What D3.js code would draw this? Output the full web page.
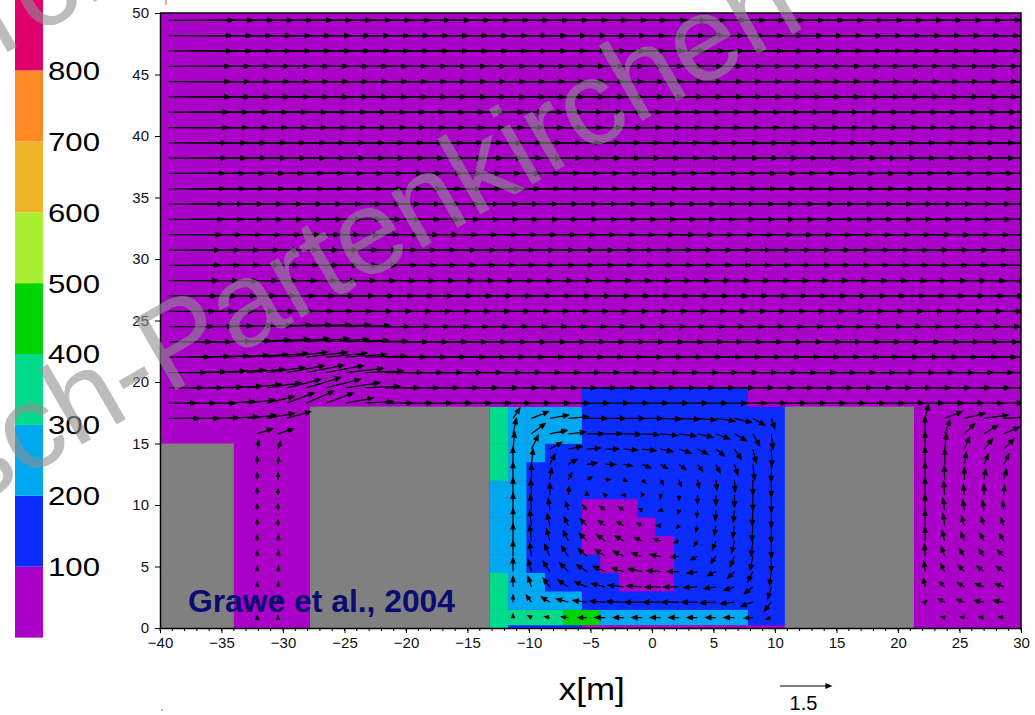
<!DOCTYPE html>
<html>
<head>
<meta charset="utf-8">
<script src="https://cdn.jsdelivr.net/npm/d3@7"></script>
<style>
  body { margin: 0; background: #fff; }
  svg text { font-family: "Liberation Sans", Arial, Helvetica, sans-serif; }
</style>
</head>
<body>
<svg id="chart" width="1035" height="715"></svg>
<script>
"use strict";

// colour classes of the concentration field (legend on the left)
let levels = [100, 200, 300, 400, 500, 600, 700, 800]
let levelColors = ["#aa00c8", "#0a2cff", "#00a8f0", "#00dc8c", "#00d400",
                   "#aaf032", "#f0b428", "#ff8a26", "#e0006c"]

let xTicks = [-40, -35, -30, -25, -20, -15, -10, -5, 0, 5, 10, 15, 20, 25, 30]
let yTicks = [0, 5, 10, 15, 20, 25, 30, 35, 40, 45, 50]

// buildings [x0, x1, height]
let buildings = [[-40, -34, 15], [-27.8, -13.2, 18], [10.8, 21.3, 18]]

// concentration cells in the street canyon (class index per cell, bottom row first)
let cellX = [-13.2, -11.7, -10.2, -8.7, -7.2, -5.7, -4.2, -2.7, -1.2, 0.3, 1.8, 3.3, 4.8, 6.3, 7.8, 9.3, 10.8]
let cellY = [0, 0.25, 1.5, 3, 4.5, 6, 7.5, 9, 10.5, 12, 13.5, 15, 16.5, 18, 19.5]
let cellClass = [
  "3111100000000000",
  "3333442222222211",
  "3222211111111111",
  "3221111000111111",
  "2211110000111111",
  "2211100000111111",
  "2211100001111111",
  "2211100011111111",
  "2211111111111111",
  "3211111111111111",
  "3221111111111111",
  "3222211111111111",
  "3222211111111111",
  "0000011111111100"
]

// wind vectors: rows of the vector grid (m)
let rowY = [0.85, 2.1, 3.34, 4.59, 5.83, 7.08, 8.32, 9.57, 10.81, 12.06, 13.3, 14.55, 15.79, 17.04,
            18.28, 19.53, 20.77, 22.02, 23.26, 24.51, 25.75, 27.0, 28.24, 29.49, 30.73, 31.98, 33.22,
            34.47, 35.71, 36.96, 38.2, 39.45, 40.69, 41.94, 43.18, 44.43, 45.67, 46.92, 48.16, 49.41]

// free stream above the roofs (rows 14..39)
let freeCols = [-39.3, -37.7, -36.1, -34.5, -32.9, -31.3, -29.7, -28.1, -26.5, -24.9, -23.3, -21.7,
                -20.1, -18.5, -16.9, -15.3, -13.7, -12.1, -10.5, -8.9, -7.3, -5.7, -4.1, -2.5, -0.9,
                0.7, 2.3, 3.9, 5.5, 7.1, 8.7, 10.3, 11.9, 13.5, 15.1, 16.7, 18.3, 19.9, 21.5, 23.1,
                24.7, 26.3, 27.9, 29.5]
let freeU = [0.8, 1.0, 1.1, 1.2, 1.25, 1.3, 1.35, 1.4, 1.45, 1.5, 1.5, 1.55, 1.6, 1.6, 1.65, 1.65,
             1.7, 1.7, 1.75, 1.75, 1.8, 1.8, 1.8, 1.85, 1.85, 1.9]
// upward deflection behind the first gap (rows 14..19, first 12 free columns)
let leftTiltV = [
  [0, 0, 0, 0.05, 0.1, 0.2, 0.3, 0.35, 0.3, 0.15, 0.05, 0],
  [0, 0, 0.02, 0.05, 0.1, 0.15, 0.25, 0.3, 0.25, 0.15, 0.05, 0],
  [0, 0.02, 0.05, 0.08, 0.1, 0.15, 0.2, 0.22, 0.2, 0.12, 0.05, 0],
  [0, 0.02, 0.04, 0.06, 0.08, 0.12, 0.15, 0.15, 0.12, 0.08, 0.03, 0],
  [0, 0, 0.02, 0.04, 0.06, 0.08, 0.1, 0.1, 0.08, 0.05, 0.02, 0],
  [0, 0, 0.02, 0.03, 0.04, 0.05, 0.06, 0.06, 0.05, 0.03, 0, 0]
]

// row 13 left of the second building
let lowLeftCols = [-39.3, -37.7, -36.1, -34.5, -32.9, -31.3, -29.7]
let lowLeftUV = [[0.9, 0], [0.9, 0], [0.9, 0.02], [0.9, 0.05], [0.85, 0.1], [0.8, 0.15], [0.7, 0.2]]

// narrow gap between first and second building (rows 12..0, top first)
let gapCols = [-32.1, -30.4]
let gapUV = [
  [[0.45, 0.15], [0.45, 0.15]],
  [[0.05, 0.25], [0.08, 0.22]],
  [[0, 0.22], [0.02, 0.2]],
  [[0, 0.2], [0, 0.2]],
  [[0, 0.2], [0, 0.18]],
  [[0, 0.18], [0, 0.18]],
  [[0, 0.18], [0, 0.16]],
  [[0, 0.16], [0.02, 0.16]],
  [[0, 0.15], [0.02, 0.15]],
  [[0, 0.14], [0.02, 0.14]],
  [[0, 0.12], [0.02, 0.12]],
  [[0, 0.1], [0, 0.1]],
  [[0, 0.05], [0, 0.05]]
]

// main street canyon vortex (rows 13..0, top first)
let cavityCols = [-11.3, -9.8, -8.3, -6.8, -5.3, -3.8, -2.3, -0.8, 0.7, 2.2, 3.7, 5.2, 6.7, 8.2, 9.7]
let cavityUV = [
  [[0.2,0.3],[0.5,0.2],[0.55,0.1],[0.6,0.05],[0.6,0],[0.6,0],[0.6,0],[0.6,0],[0.6,-0.02],[0.6,-0.03],[0.55,-0.05],[0.55,-0.08],[0.5,-0.12],[0.35,-0.2],[0.1,-0.3]],
  [[0.1,0.45],[0.4,0.3],[0.5,0.1],[0.5,0.05],[0.5,0],[0.5,0],[0.5,-0.02],[0.5,-0.03],[0.5,-0.05],[0.5,-0.07],[0.45,-0.1],[0.4,-0.15],[0.35,-0.2],[0.2,-0.35],[0.05,-0.45]],
  [[0.05,0.5],[0.2,0.4],[0.35,0.2],[0.4,0.08],[0.4,0.03],[0.4,0],[0.4,-0.03],[0.4,-0.05],[0.35,-0.08],[0.35,-0.12],[0.3,-0.15],[0.25,-0.2],[0.2,-0.3],[0.1,-0.4],[0.02,-0.5]],
  [[0,0.5],[0.05,0.45],[0.15,0.3],[0.25,0.15],[0.3,0.05],[0.3,0],[0.25,-0.05],[0.25,-0.1],[0.2,-0.12],[0.2,-0.15],[0.15,-0.2],[0.12,-0.25],[0.1,-0.3],[0.05,-0.45],[0,-0.5]],
  [[0,0.5],[0,0.45],[0.05,0.35],[0.1,0.2],[0.15,0.08],[0.15,0],[0.1,-0.05],[0.1,-0.1],[0.08,-0.15],[0.06,-0.2],[0.05,-0.25],[0.03,-0.3],[0.02,-0.35],[0,-0.45],[0,-0.5]],
  [[0,0.5],[-0.02,0.45],[0,0.35],[0.02,0.25],[0,0.1],[-0.05,0.05],[-0.05,0],[-0.03,-0.05],[0,-0.1],[0,-0.15],[0,-0.25],[0,-0.3],[0,-0.35],[0,-0.45],[0,-0.5]],
  [[0,0.5],[-0.03,0.45],[-0.05,0.35],[-0.08,0.25],[-0.12,0.15],[-0.15,0.12],[-0.15,0.1],[-0.1,0.05],[-0.05,-0.02],[-0.03,-0.1],[-0.02,-0.2],[-0.02,-0.3],[-0.03,-0.35],[-0.02,-0.45],[0,-0.5]],
  [[0,0.5],[-0.05,0.45],[-0.08,0.35],[-0.12,0.25],[-0.2,0.2],[-0.2,0.15],[-0.2,0.12],[-0.15,0.08],[-0.12,0],[-0.08,-0.08],[-0.05,-0.18],[-0.05,-0.28],[-0.05,-0.35],[-0.03,-0.45],[0,-0.5]],
  [[0,0.5],[-0.05,0.45],[-0.1,0.35],[-0.15,0.3],[-0.22,0.22],[-0.25,0.18],[-0.25,0.15],[-0.22,0.1],[-0.2,0.05],[-0.15,-0.05],[-0.1,-0.15],[-0.1,-0.25],[-0.08,-0.35],[-0.05,-0.45],[0,-0.5]],
  [[0,0.45],[-0.05,0.4],[-0.15,0.35],[-0.2,0.3],[-0.25,0.22],[-0.3,0.2],[-0.3,0.15],[-0.3,0.1],[-0.3,0.05],[-0.25,-0.02],[-0.2,-0.1],[-0.15,-0.2],[-0.12,-0.3],[-0.08,-0.4],[0,-0.45]],
  [[0,0.4],[-0.1,0.35],[-0.2,0.3],[-0.25,0.25],[-0.3,0.2],[-0.35,0.15],[-0.35,0.1],[-0.4,0.08],[-0.4,0.03],[-0.35,0],[-0.3,-0.05],[-0.25,-0.12],[-0.2,-0.2],[-0.15,-0.3],[-0.05,-0.4]],
  [[0,0.3],[-0.1,0.3],[-0.2,0.25],[-0.3,0.2],[-0.35,0.15],[-0.4,0.1],[-0.45,0.05],[-0.45,0.03],[-0.45,0],[-0.45,0],[-0.4,-0.02],[-0.35,-0.05],[-0.3,-0.1],[-0.25,-0.2],[-0.1,-0.35]],
  [[0,0.2],[-0.15,0.2],[-0.25,0.15],[-0.35,0.1],[-0.4,0.05],[-0.45,0.03],[-0.5,0.02],[-0.5,0],[-0.5,0],[-0.5,0],[-0.45,0],[-0.45,-0.02],[-0.4,-0.05],[-0.35,-0.12],[-0.2,-0.25]],
  [[0,0.1],[-0.1,0.05],[-0.15,0.03],[-0.2,0.02],[-0.25,0],[-0.3,0],[-0.3,0],[-0.3,0],[-0.3,0],[-0.3,0],[-0.3,0],[-0.3,0],[-0.3,0],[-0.25,-0.02],[-0.15,-0.05]]
]

// canyon right of the third building (rows 13..0, top first)
let canyonCols = [22.2, 23.8, 25.4, 27.0, 28.6]
let canyonUV = [
  [[0.1,0.4],[0.5,0.2],[0.6,0.15],[0.7,0.1],[0.8,0.05]],
  [[0,0.5],[0.15,0.4],[0.3,0.3],[0.4,0.25],[0.45,0.2]],
  [[0,0.5],[0.05,0.45],[0.15,0.35],[0.25,0.3],[0.3,0.3]],
  [[0,0.5],[0,0.45],[0.05,0.35],[0.12,0.3],[0.15,0.3]],
  [[0,0.5],[-0.02,0.4],[0,0.35],[0.05,0.3],[0.08,0.3]],
  [[0,0.5],[-0.03,0.4],[-0.03,0.3],[0,0.3],[0.02,0.28]],
  [[0,0.45],[-0.05,0.35],[-0.05,0.3],[-0.05,0.28],[-0.03,0.25]],
  [[0,0.45],[-0.05,0.35],[-0.08,0.28],[-0.08,0.25],[-0.08,0.22]],
  [[0,0.4],[-0.08,0.3],[-0.1,0.25],[-0.12,0.22],[-0.12,0.2]],
  [[-0.02,0.35],[-0.1,0.28],[-0.15,0.22],[-0.15,0.2],[-0.18,0.18]],
  [[-0.03,0.3],[-0.12,0.22],[-0.18,0.18],[-0.2,0.15],[-0.22,0.15]],
  [[-0.05,0.25],[-0.15,0.15],[-0.2,0.12],[-0.25,0.1],[-0.25,0.1]],
  [[0.05,0.05],[-0.18,0.1],[-0.22,0.08],[-0.28,0.05],[-0.3,0.05]],
  [[0,0],[-0.1,0.02],[-0.12,0.02],[-0.15,0.02],[-0.15,0.02]]
]

let refVector = 1.5

// ------------------------------------------------------------------
let svg = d3.select("#chart")

let x = d3.scaleLinear().domain([-40, 30]).range([160, 1021])
let y = d3.scaleLinear().domain([0, 50]).range([628, 13])
let speed = d3.scaleLinear().domain([0, 1.5]).range([0, 51])
let cbar = d3.scaleLinear().domain([0, 900]).range([637.6, -0.4])

// colour bar
let cb = svg.append("g")
cb.selectAll("rect").data(levelColors).join("rect")
    .attr("x", 15).attr("width", 28)
    .attr("y", (d, i) => cbar((i + 1) * 100))
    .attr("height", (d, i) => cbar(i * 100) - cbar((i + 1) * 100))
    .attr("fill", d => d)
cb.selectAll("text").data(levels).join("text")
    .attr("x", 48).attr("y", d => cbar(d)).attr("dy", "0.36em")
    .attr("font-size", 26).attr("textLength", 52).attr("lengthAdjust", "spacingAndGlyphs")
    .text(d => d)

// plot area
let clip = svg.append("clipPath").attr("id", "plotclip")
clip.append("rect").attr("x", x(-40)).attr("y", y(50)).attr("width", x(30) - x(-40)).attr("height", y(0) - y(50))
let plot = svg.append("g").attr("clip-path", "url(#plotclip)")

plot.append("rect")
    .attr("x", x(-40)).attr("y", y(50)).attr("width", x(30) - x(-40)).attr("height", y(0) - y(50))
    .attr("fill", levelColors[0])

let cells = []
cellClass.forEach((row, r) => {
  row.split("").forEach((k, c) => cells.push({x0: cellX[c], x1: cellX[c + 1], y0: cellY[r], y1: cellY[r + 1], k: +k}))
})
plot.append("g").selectAll("rect").data(cells).join("rect")
    .attr("x", d => x(d.x0)).attr("width", d => x(d.x1) - x(d.x0) + 0.3)
    .attr("y", d => y(d.y1)).attr("height", d => y(d.y0) - y(d.y1) + 0.3)
    .attr("fill", d => levelColors[d.k])

plot.append("g").selectAll("rect").data(buildings).join("rect")
    .attr("x", d => x(d[0])).attr("width", d => x(d[1]) - x(d[0]))
    .attr("y", d => y(d[2])).attr("height", d => y(0) - y(d[2]))
    .attr("fill", "#808080")

// collect vectors
let vectors = []
for (let i = 0; i < freeU.length; i++) {
  freeCols.forEach((cx, k) => {
    let v = (i < leftTiltV.length && k < leftTiltV[i].length) ? leftTiltV[i][k] : 0
    vectors.push({x: cx, y: rowY[14 + i], u: freeU[i], v: v})
  })
}
lowLeftCols.forEach((cx, k) => vectors.push({x: cx, y: rowY[13], u: lowLeftUV[k][0], v: lowLeftUV[k][1]}))
gapUV.forEach((row, i) => row.forEach((uv, k) => vectors.push({x: gapCols[k], y: rowY[12 - i], u: uv[0], v: uv[1]})))
cavityUV.forEach((row, i) => row.forEach((uv, k) => vectors.push({x: cavityCols[k], y: rowY[13 - i], u: uv[0], v: uv[1]})))
canyonUV.forEach((row, i) => row.forEach((uv, k) => vectors.push({x: canyonCols[k], y: rowY[13 - i], u: uv[0], v: uv[1]})))

function arrowPath(x0, y0, dx, dy) {
  let len = Math.hypot(dx, dy)
  let x1 = x0 + dx, y1 = y0 + dy
  let ux = dx / len, uy = dy / len
  let hl = Math.min(5, Math.max(3.5, len * 0.5)), hw = hl * 0.42
  let bx = x1 - ux * hl, by = y1 - uy * hl
  return "M" + x0 + "," + y0 + "L" + x1 + "," + y1 +
         "M" + x1 + "," + y1 + "L" + (bx - uy * hw) + "," + (by + ux * hw) +
         "L" + (bx + uy * hw) + "," + (by - ux * hw) + "Z"
}

plot.append("g").selectAll("path")
    .data(vectors.filter(d => Math.hypot(speed(d.u), speed(d.v)) > 1.5))
    .join("path")
    .attr("d", d => arrowPath(x(d.x), y(d.y), speed(d.u), -speed(d.v)))
    .attr("stroke", "#000").attr("stroke-width", 1.25).attr("fill", "#000")

// axes and frame
let xAxis = svg.append("g").attr("transform", "translate(0," + y(0) + ")")
    .call(d3.axisBottom(x).tickValues(xTicks).tickSize(5).tickPadding(4).tickSizeOuter(0)
      .tickFormat(d => d < 0 ? "\u2212" + Math.abs(d) : d))
xAxis.append("g").selectAll("line").data(x.ticks(70)).join("line")
    .attr("x1", d => x(d)).attr("x2", d => x(d)).attr("y1", 0).attr("y2", 3)
    .attr("stroke", "#000")
let yAxis = svg.append("g").attr("transform", "translate(" + x(-40) + ",0)")
    .call(d3.axisLeft(y).tickValues(yTicks).tickSize(5).tickPadding(4).tickSizeOuter(0))
svg.selectAll(".tick text").attr("font-size", 15).attr("fill", "#111")
    .attr("font-family", "'Liberation Sans Narrow', 'Liberation Sans', Arial, sans-serif")
yAxis.selectAll(".tick text").attr("x", -11)
svg.selectAll(".domain").attr("stroke-width", 1.5)

svg.append("path")
    .attr("d", "M" + x(-40) + "," + y(50) + "H" + x(30) + "V" + y(0))
    .attr("fill", "none").attr("stroke", "#000").attr("stroke-width", 1.5)

svg.append("text").attr("x", x(-4.9)).attr("y", 700).attr("text-anchor", "middle")
    .attr("font-size", 31).attr("textLength", 66).attr("lengthAdjust", "spacingAndGlyphs")
    .text("x[m]")

// reference vector
let refX = 780
svg.append("path").attr("d", arrowPath(refX, 686, speed(refVector), 0))
    .attr("stroke", "#000").attr("stroke-width", 1.2).attr("fill", "#000")
svg.append("text").attr("x", refX + speed(refVector) / 2 - 2).attr("y", 710).attr("text-anchor", "middle")
    .attr("font-size", 20).text(refVector)

svg.append("text").attr("x", 188).attr("y", 612)
    .attr("font-size", 31).attr("font-weight", "bold").attr("fill", "#0c0c70")
    .attr("textLength", 267).attr("lengthAdjust", "spacingAndGlyphs")
    .text("Grawe et al., 2004")

// small slide marks
svg.append("rect").attr("x", 165).attr("y", 0).attr("width", 2).attr("height", 5).attr("fill", "#f4a4a4")
svg.append("rect").attr("x", 161).attr("y", 709).attr("width", 2).attr("height", 2).attr("fill", "#f4a4a4")

// watermark
let wm = svg.append("g").attr("fill", "rgb(144,144,144)").attr("fill-opacity", 0.6)
    .attr("font-size", 120).attr("font-family", "'Liberation Sans', Arial, sans-serif")
wm.append("text").attr("transform", "translate(-312,672) rotate(-30)").text("Garmisch-Partenkirchen")
wm.append("text").attr("transform", "translate(-860,553) rotate(-30)").text("Garmisch-Partenkirchen")
</script>
</body>
</html>
